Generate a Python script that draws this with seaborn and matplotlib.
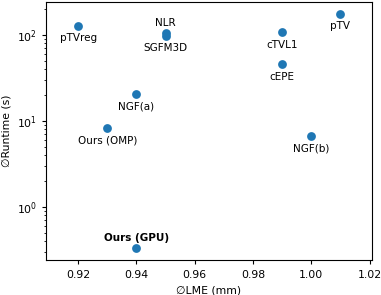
import pandas as pd
import matplotlib.pyplot as plt
import seaborn as sns

methods = ["pTVreg", "NLR", "SGFM3D", "NGF(a)", "Ours (OMP)", "Ours (GPU)",
           "cTVL1", "pTV", "cEPE", "NGF(b)"]
lme = [0.92, 0.95, 0.95, 0.94, 0.93, 0.94, 0.99, 1.01, 0.99, 1.00]
runtime = [128, 104, 98, 20.8, 8.2, 0.33, 108, 176, 45.9, 6.65]
label_above = ["NLR", "Ours (GPU)"]

df = pd.DataFrame({"method": methods, "lme": lme, "runtime": runtime})

plt.rcParams.update({
    "font.size": 7.5,
    "xtick.labelsize": 7.8,
    "ytick.labelsize": 7.8,
    "axes.labelsize": 7.8,
    "xtick.major.size": 3,
    "ytick.major.size": 3,
    "ytick.minor.size": 1.8,
    "xtick.major.pad": 4.5,
    "axes.linewidth": 0.8,
})

fig, ax = plt.subplots(figsize=(3.81, 2.95), dpi=100)
sns.scatterplot(data=df, x="lme", y="runtime", color="#1f77b4", s=40,
                linewidth=0, ax=ax)
ax.set_yscale("log")

# labels under each point, a few above
for m, x, y in zip(methods, lme, runtime):
    if m in label_above:
        ax.annotate(m, (x, y), xytext=(0, 4), textcoords="offset points",
                    ha="center", va="bottom",
                    fontweight="bold" if m == "Ours (GPU)" else "normal")
    else:
        ax.annotate(m, (x, y), xytext=(0, -5.5), textcoords="offset points",
                    ha="center", va="top")

ax.set_xlim(0.909, 1.0208)
ax.set_xticks([0.92, 0.94, 0.96, 0.98, 1.00, 1.02])
ax.set_xlabel("\u2205LME (mm)")
ax.set_ylabel("\u2205Runtime (s)")

plt.subplots_adjust(left=0.121, right=0.976, top=0.993, bottom=0.119)
plt.savefig("out.png", dpi=100)
